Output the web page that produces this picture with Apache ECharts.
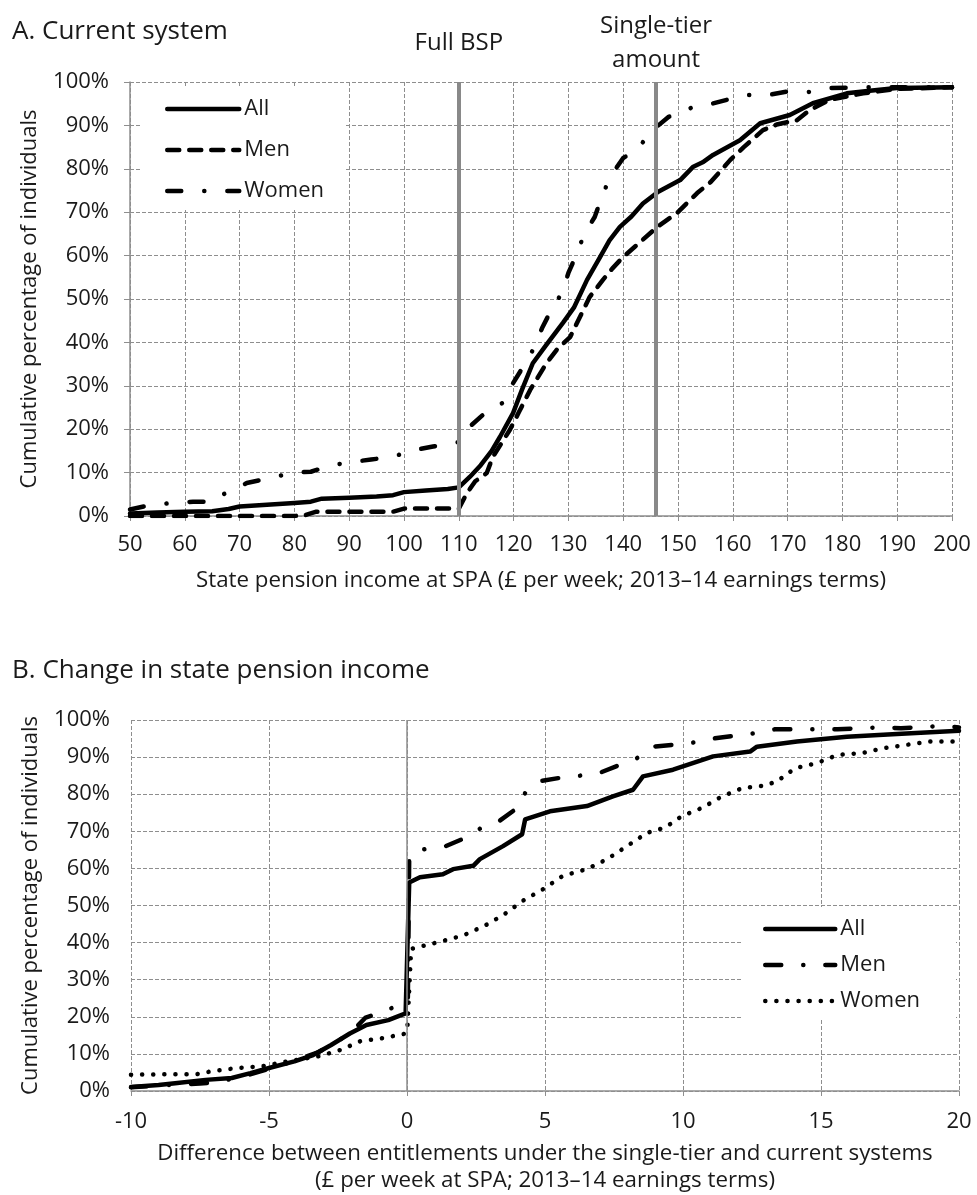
<!DOCTYPE html>
<html>
<head>
<meta charset="utf-8">
<script src="https://cdn.jsdelivr.net/npm/echarts@6/dist/echarts.min.js"></script>
<style>
html,body{margin:0;padding:0;background:#fff;}
#chart{width:977px;height:1195px;}
</style>
</head>
<body>
<div id="chart"></div>
<script>
// ---------- Panel A data: [£ per week, cumulative %] ----------
const aAll = [[50,0.6],[55,0.8],[60,1],[65,1.1],[68,1.6],[70,2.2],[75,2.6],[80,3],[83,3.3],[85,4],[90,4.2],[95,4.5],[98,4.8],[100,5.5],[104,5.9],[108,6.2],[110,6.6],[112,9],[114,11.7],[116,15],[117.5,18.2],[119.9,23.7],[121.5,29],[123.5,35.2],[126,39.5],[129,44.5],[131,48],[133.4,54.4],[135.8,59.7],[137.5,63.5],[139.4,66.6],[141.5,69],[143.6,72],[146.4,74.7],[150.4,77.4],[152.7,80.4],[154.5,81.5],[156.4,83.2],[161.3,86.6],[165,90.5],[170.4,92.4],[174.6,95.1],[180.8,97.4],[185,98],[189.9,98.6],[200,98.8]];
const aMen = [[50,0],[60,0],[70,0],[80,0],[82,0.2],[84,1],[90,1],[98,1],[100,1.7],[110,1.7],[111.5,5.3],[113,8],[115.1,9.9],[116.2,13.6],[119.3,19.8],[121,24],[123,29],[126,35.2],[128,38.5],[130.3,41.2],[133.9,50.5],[136.3,54.4],[138,57],[140,59.7],[143,63],[146.2,66.6],[149.8,69.8],[153.5,74.4],[156,77],[159.5,82],[162,85],[165.5,88.9],[168,90.2],[171.7,91.2],[174,93.5],[177.7,95.9],[183.8,97.4],[190,98.4],[200,98.8]];
const aWomen = [[50,1.5],[53.6,2.5],[57.9,3],[61.5,3.3],[65,3.3],[67,5],[68.8,6],[71.3,7.6],[75.5,8.7],[79.8,10],[83,10.2],[86.8,11.7],[90.7,12.5],[94,13],[98,13.7],[102,15.2],[105.3,16],[109,16.9],[110,17],[112,20.6],[114.4,23.3],[117.9,26],[119.9,30.6],[121.7,34.3],[123.5,38.2],[125.2,43.3],[126.6,46.8],[128.8,51.4],[130,56],[131.6,60.6],[132.8,64.7],[134.8,68.9],[136.1,73.5],[137.6,78.1],[140,82.5],[142.5,84.3],[145,88.5],[148.2,91.9],[152.7,94.2],[155.3,94.7],[158.9,95.9],[162.6,97],[166.4,97],[170.4,97.9],[174,97.7],[177.7,98.6],[185,98.8],[200,98.8]];
const aRefValues = [110, 146];
const aRefLabels = ['Full BSP', 'Single-tier\namount'];

// ---------- Panel B data: [£ difference, cumulative %] ----------
const bAll = [[-10,1.1],[-9,1.6],[-8.4,2.1],[-7.3,3],[-6.35,3.5],[-5.67,4.8],[-5,6.2],[-4.08,8],[-3.4,9.7],[-2.75,12.4],[-2.07,15.5],[-1.47,17.8],[-0.68,19.1],[-0.05,20.9],[0.08,56.2],[0.47,57.6],[1.3,58.4],[1.67,59.8],[2.4,60.7],[2.64,62.5],[3.48,66],[4.17,69.2],[4.28,73.2],[5.18,75.4],[6.52,76.8],[7.46,79.4],[8.19,81.2],[8.55,84.8],[9.64,86.6],[11.09,90.2],[12.43,91.5],[12.68,92.8],[14.13,94.2],[15.94,95.5],[17.75,96.2],[20,97.1]];
const bMen = [[-10,1],[-9,1.5],[-7.5,2],[-7,2.3],[-6,3.8],[-5,6],[-4,8.3],[-3.2,10.5],[-2.5,13.5],[-2,16],[-1.5,19.8],[-0.9,21.2],[-0.18,23.6],[0.03,24],[0.08,63.4],[0.58,65.1],[1.4,66],[2.17,68.4],[2.57,70.5],[3.33,72.7],[4.09,76.8],[4.28,80.3],[4.78,83.5],[5.54,84.4],[6.27,85],[7.03,85.9],[7.72,87.9],[8.33,89.7],[8.88,92.8],[9.64,93.3],[10.36,93.9],[11.16,95.1],[12.54,96.4],[13.33,97.5],[15.6,97.5],[17.1,98],[17.9,97.8],[19.4,98.4],[20,98]];
const bWomen = [[-10,4.4],[-8.8,4.5],[-7.65,4.5],[-7.03,5.4],[-6.13,6.2],[-5.22,6.7],[-4.31,8],[-3.18,9.4],[-2.39,11.1],[-1.7,13.4],[-0.91,14.2],[-0.04,15.5],[0.02,17.8],[0.15,38.3],[1.12,40.1],[2.03,41.9],[2.83,44.6],[3.5,47.5],[4.2,51.3],[4.93,54.4],[5.65,58],[6.52,59.8],[7.25,62.5],[7.97,66],[8.7,69.6],[9.35,71],[9.96,74.1],[10.69,76.3],[11.41,79.4],[12.17,81.7],[12.97,82.3],[13.41,83.5],[14.06,87],[14.86,88.4],[15.6,90.6],[16.5,91.1],[17.25,92.4],[18.1,93.3],[18.95,94.2],[20,94.2]];
const bZeroLine = [0];

const seriesNames = ['All', 'Men', 'Women'];
const titleA = 'A. Current system';
const titleB = 'B. Change in state pension income';
const yName = 'Cumulative percentage of individuals';
const xNameA = 'State pension income at SPA (£ per week; 2013–14 earnings terms)';
const xNameB = 'Difference between entitlements under the single-tier and current systems\n(£ per week at SPA; 2013–14 earnings terms)';

const FONT = 'Open Sans';
const TXT = '#1a1a1a';
const GRIDC = '#8e8e8e';
const LW = 4.5;

const chart = echarts.init(document.getElementById('chart'), null, {renderer: 'canvas'});

function xAxisCfg(gridIndex, min, max, interval, name, nameGap, margin) {
  return {
    type: 'value', gridIndex, min, max, interval,
    name, nameLocation: 'middle', nameGap,
    nameTextStyle: {fontFamily: FONT, fontSize: 22.3, color: TXT, lineHeight: 27},
    axisLine: {show: true, onZero: false, lineStyle: {color: GRIDC, width: 1.5}},
    axisTick: {show: true, length: 5, lineStyle: {color: GRIDC}},
    axisLabel: {fontFamily: FONT, fontSize: 22, color: TXT, margin},
    splitLine: {show: true, lineStyle: {color: GRIDC, type: [4, 2], width: 1}}
  };
}
function yAxisCfg(gridIndex, showLine) {
  return {
    type: 'value', gridIndex, min: 0, max: 100, interval: 10,
    name: yName, nameLocation: 'middle', nameGap: 89,
    nameTextStyle: {fontFamily: FONT, fontSize: 22, color: TXT},
    axisLine: {show: showLine, onZero: false, lineStyle: {color: GRIDC, width: 1.5}},
    axisTick: {show: showLine, length: 6, lineStyle: {color: GRIDC}},
    axisLabel: {fontFamily: FONT, fontSize: 22, color: TXT, margin: 21, formatter: '{value}%'},
    splitLine: {show: true, lineStyle: {color: GRIDC, type: [4, 2], width: 1}}
  };
}
function lineSeries(name, data, idx, type, z) {
  return {
    name, type: 'line', xAxisIndex: idx, yAxisIndex: idx, data,
    symbol: 'none', smooth: false, z: z || 3, silent: true,
    lineStyle: {color: '#000', width: LW, type: type, cap: 'round', join: 'round'},
    itemStyle: {color: '#000'}
  };
}

const legendText = {fontFamily: FONT, fontSize: 22, color: TXT, lineHeight: 22};
const legendLine = {width: LW, cap: 'round', join: 'round'};

const option = {
  backgroundColor: '#fff',
  animation: false,
  title: [
    {text: titleA, left: 7, top: 14, textStyle: {fontFamily: FONT, fontSize: 26, fontWeight: 'normal', color: TXT}},
    {text: titleB, left: 7, top: 653, textStyle: {fontFamily: FONT, fontSize: 26, fontWeight: 'normal', color: TXT}}
  ],
  grid: [
    {left: 130, right: 25, top: 82, height: 434},
    {left: 131, right: 18, top: 720, height: 373}
  ],
  xAxis: [
    xAxisCfg(0, 50, 200, 10, xNameA, 51, 18),
    xAxisCfg(1, -10, 20, 5, xNameB, 49, 20)
  ],
  yAxis: [yAxisCfg(0, true), yAxisCfg(1, false)],
  legend: [
    {
      data: seriesNames, left: 140, top: 88, orient: 'vertical',
      itemWidth: 72, itemHeight: 14, itemGap: 19,
      backgroundColor: '#fff', padding: [10, 20, 8, 25],
      textStyle: legendText, lineStyle: legendLine,
      itemStyle: {color: 'rgba(0,0,0,0)', borderWidth: 0},
      selectedMode: false
    },
    {
      data: seriesNames.map(n => 'B ' + n), left: 743, top: 907, orient: 'vertical',
      itemWidth: 70, itemHeight: 14, itemGap: 14,
      backgroundColor: '#fff', padding: [11, 36, 8, 20],
      textStyle: legendText, lineStyle: legendLine,
      formatter: n => n.replace('B ', ''),
      itemStyle: {color: 'rgba(0,0,0,0)', borderWidth: 0},
      selectedMode: false
    }
  ],
  series: [
    {
      name: 'refA', type: 'line', xAxisIndex: 0, yAxisIndex: 0, data: [], z: 2, silent: true,
      markLine: {
        silent: true, symbol: 'none', animation: false,
        lineStyle: {color: '#898989', width: 4, type: 'solid'},
        label: {show: true, position: 'end', verticalAlign: 'middle', distance: 39,
          fontFamily: FONT, fontSize: 24, color: TXT, lineHeight: 34,
          formatter: p => p.name},
        data: aRefValues.map((v, i) => ({xAxis: v, name: aRefLabels[i]}))
      }
    },
    lineSeries('Women', aWomen, 0, [14, 23, 0.1, 23]),
    lineSeries('Men', aMen, 0, [12, 10]),
    lineSeries('All', aAll, 0, 'solid', 4),
    {
      name: 'refB', type: 'line', xAxisIndex: 1, yAxisIndex: 1, data: [], z: 2, silent: true,
      markLine: {
        silent: true, symbol: 'none', animation: false,
        lineStyle: {color: GRIDC, width: 1.5, type: 'solid'},
        label: {show: false},
        data: bZeroLine.map(v => ({xAxis: v}))
      }
    },
    lineSeries('B Women', bWomen, 1, [0.1, 11]),
    lineSeries('B Men', bMen, 1, [16, 22, 0.1, 22]),
    lineSeries('B All', bAll, 1, 'solid', 4)
  ]
};
chart.setOption(option);
</script>
</body>
</html>
